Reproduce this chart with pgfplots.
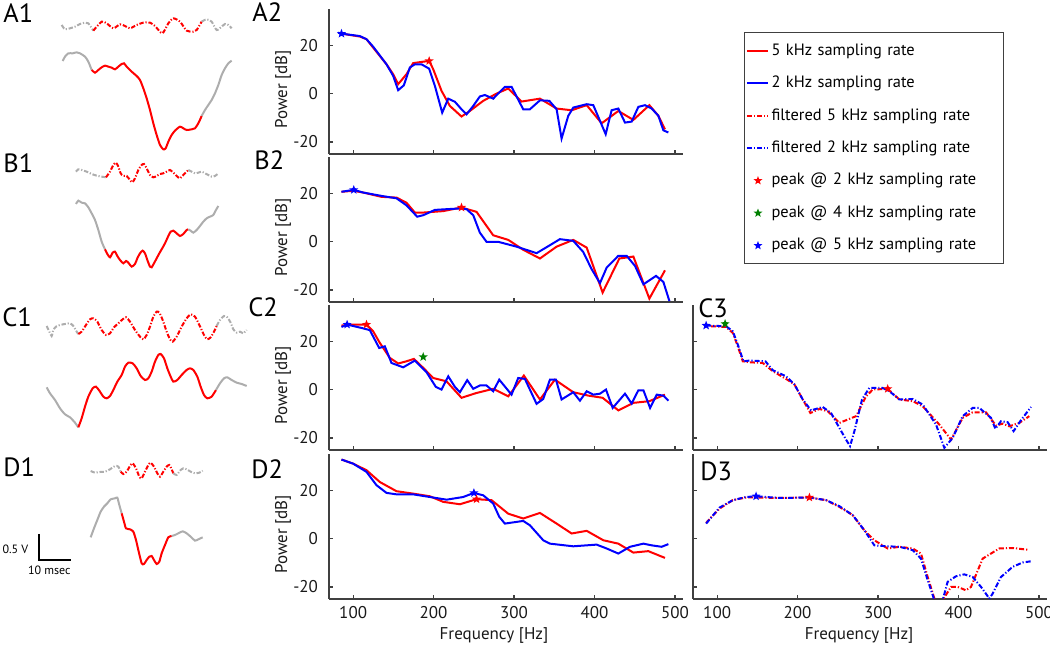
\documentclass[border=0pt]{standalone}
\usepackage{fontspec}
\setmainfont{PT Sans}
\usepackage{pgfplots}
\pgfplotsset{compat=1.18}
\pgfdeclareplotmark{fstar}{%
  \pgfpathmoveto{\pgfpointpolar{90}{\pgfplotmarksize}}%
  \pgfpathlineto{\pgfpointpolar{126}{0.42\pgfplotmarksize}}%
  \pgfpathlineto{\pgfpointpolar{162}{\pgfplotmarksize}}%
  \pgfpathlineto{\pgfpointpolar{198}{0.42\pgfplotmarksize}}%
  \pgfpathlineto{\pgfpointpolar{234}{\pgfplotmarksize}}%
  \pgfpathlineto{\pgfpointpolar{270}{0.42\pgfplotmarksize}}%
  \pgfpathlineto{\pgfpointpolar{306}{\pgfplotmarksize}}%
  \pgfpathlineto{\pgfpointpolar{342}{0.42\pgfplotmarksize}}%
  \pgfpathlineto{\pgfpointpolar{18}{\pgfplotmarksize}}%
  \pgfpathlineto{\pgfpointpolar{54}{0.42\pgfplotmarksize}}%
  \pgfpathclose\pgfusepathqfill}
\newcommand{\legstar}[1]{\path (0pt,0pt) (10.5pt,0pt);
  \fill[#1, draw=none] (5.5pt,0pt) +(90:2.3pt) -- +(126:0.97pt) -- +(162:2.3pt) -- +(198:0.97pt) -- +(234:2.3pt) -- +(270:0.97pt) -- +(306:2.3pt) -- +(342:0.97pt) -- +(18:2.3pt) -- +(54:0.97pt) -- cycle;}
\definecolor{mred}{rgb}{1,0,0}
\definecolor{mblue}{rgb}{0,0,1}
\definecolor{mgreen}{rgb}{0,0.5,0}
\definecolor{wgray}{rgb}{0.68,0.68,0.68}
\definecolor{axgray}{rgb}{0.25,0.25,0.25}
\pgfplotsset{
  wave/.style={hide axis, scale only axis, width=125pt, height=80pt,
    xmin=0, xmax=750, ymin=0, ymax=480, y dir=reverse, clip=false, anchor=south west},
  gsol/.style={wgray, line width=1pt, smooth, tension=0.4, no marks},
  rsol/.style={mred, line width=1pt, smooth, tension=0.4, no marks},
  gdash/.style={wgray, line width=1pt, smooth, tension=0.4, no marks, dash pattern=on 2.2pt off 0.9pt on 0.6pt off 0.9pt},
  rdash/.style={mred, line width=1pt, smooth, tension=0.4, no marks, dash pattern=on 2.2pt off 0.9pt on 0.6pt off 0.9pt},
  spec/.style={scale only axis, width=177pt, height=72.5pt, anchor=south west,
    xmin=70, xmax=510, ymin=-25, ymax=35,
    axis lines=left, axis line style={-, draw=axgray, line width=0.6pt},
    xtick={100,200,300,400,500}, ytick={-20,0,20},
    tick align=inside, major tick length=2pt, tick style={axgray, line width=0.6pt},
    /pgf/number format/assume math mode=true,
    tick label style={font=\fontsize{8.5}{10}\selectfont, text=black!90},
    xticklabel style={yshift=0pt},
    yticklabel style={xshift=-2pt},
    ylabel={Power [dB]},
    ylabel style={at={(axis description cs:-0.13,0.445)}, anchor=center, font=\fontsize{8.5}{10}\selectfont, text=black!90},
    xlabel style={at={(axis description cs:0.466,-0.252)}, anchor=center, font=\fontsize{8.5}{10}\selectfont, text=black!90},
  },
  rl/.style={mred, line width=1pt, no marks},
  bl/.style={mblue, line width=1pt, no marks},
  rd/.style={mred, line width=1pt, no marks, dash pattern=on 2.5pt off 1pt on 0.6pt off 1pt},
  bd/.style={mblue, line width=1pt, no marks, dash pattern=on 2.5pt off 1pt on 0.6pt off 1pt},
  st/.style={only marks, mark=fstar, mark size=2.4pt, #1},
}
\begin{document}
\begin{tikzpicture}
\path[use as bounding box] (0pt,0pt) rectangle (525pt,323pt);

% ---------------- left column: waveforms ----------------
\begin{axis}[wave, at={(0pt,243pt)}]
\addplot[gdash] coordinates {(185,75)(195,88)(210,85)(225,80)(240,72)(255,68)(265,70)(280,92)};
\addplot[rdash] coordinates {(280,92)(305,65)(320,70)(340,85)(360,73)(375,78)(390,85)(410,75)(430,68)(450,68)(465,78)(487,100)(505,70)(520,55)(540,65)(560,92)(580,95)(590,90)(605,65)};
\addplot[gdash] coordinates {(605,65)(620,58)(635,65)(650,90)(665,80)(675,72)(685,75)(695,85)};
\addplot[gsol] coordinates {(188,183)(195,170)(205,160)(218,160)(230,157)(240,160)(255,170)(265,185)(275,210)};
\addplot[rsol] coordinates {(275,210)(285,218)(295,210)(305,202)(315,197)(325,200)(335,203)(345,208)(355,200)(365,192)(372,190)(380,200)(395,215)(410,228)(420,240)(430,265)(440,295)(450,330)(460,370)(470,405)(480,435)(490,448)(497,445)(505,425)(515,405)(525,392)(540,380)(550,385)(560,390)(575,388)(585,385)(595,370)(605,348)};
\addplot[gsol] coordinates {(605,348)(615,330)(625,315)(635,300)(645,280)(655,255)(665,225)(675,205)(685,190)(695,182)};
\end{axis}

\begin{axis}[wave, at={(0pt,168pt)}]
\addplot[gdash] coordinates {(228,65)(235,58)(245,60)(260,65)(275,72)(290,77)(305,80)(318,82)};
\addplot[rdash] coordinates {(318,82)(330,65)(340,45)(348,38)(355,50)(362,70)(370,78)(380,78)(390,90)(397,97)(405,85)(415,60)(425,45)(432,42)(440,55)(450,75)(460,82)(470,78)(480,72)(490,70)(500,65)(510,60)(520,68)(530,78)(540,85)(550,75)(560,65)(565,60)};
\addplot[gdash] coordinates {(565,60)(575,65)(585,70)(595,68)(605,65)(615,70)(625,75)(635,80)(645,78)(655,70)};
\addplot[gsol] coordinates {(228,162)(235,152)(245,158)(255,160)(265,172)(275,190)(285,210)(295,240)(305,275)(315,298)};
\addplot[rsol] coordinates {(315,298)(322,312)(330,322)(338,308)(345,305)(352,318)(360,330)(370,340)(378,333)(385,338)(395,350)(405,342)(412,325)(420,310)(428,302)(435,310)(442,330)(450,350)(455,352)(462,340)(470,325)(478,310)(485,298)(495,280)(505,258)(512,245)(520,242)(530,250)(540,258)(550,252)(560,240)(565,238)};
\addplot[gsol] coordinates {(565,238)(572,242)(580,248)(590,240)(600,228)(610,215)(620,205)(630,200)(640,195)(648,180)(655,168)};
\end{axis}

\begin{axis}[wave, at={(0pt,93pt)}]
\addplot[gdash] coordinates {(140,78)(148,95)(155,108)(160,90)(168,80)(180,75)(195,72)(210,70)(220,78)(230,95)(235,102)};
\addplot[rdash] coordinates {(235,102)(245,95)(258,75)(270,58)(280,55)(292,65)(305,90)(318,105)(330,100)(342,82)(355,70)(368,58)(378,52)(390,65)(405,90)(420,110)(430,118)(440,105)(450,80)(460,50)(470,35)(478,38)(488,60)(500,95)(510,118)(518,125)(530,110)(545,80)(560,55)(572,43)(585,50)(598,75)(612,105)(622,118)(632,112)(642,95)(650,78)};
\addplot[gdash] coordinates {(650,78)(660,60)(672,48)(682,52)(692,68)(700,88)(710,98)(720,95)(730,100)(740,90)};
\addplot[gsol] coordinates {(140,262)(150,280)(165,300)(180,325)(195,343)(210,352)(225,368)(235,382)};
\addplot[rsol] coordinates {(235,382)(245,355)(255,320)(265,290)(278,265)(288,260)(298,272)(310,290)(320,295)(330,288)(340,270)(352,245)(365,225)(375,200)(385,188)(398,190)(410,205)(422,228)(435,240)(445,235)(455,215)(465,185)(475,165)(482,162)(492,175)(502,205)(512,230)(520,245)(532,240)(545,225)(560,210)(570,205)(580,210)(592,230)(602,260)(612,285)(622,295)(635,290)(648,270)};
\addplot[gsol] coordinates {(648,270)(660,250)(672,235)(682,232)(695,240)(710,248)(725,252)(740,258)};
\end{axis}

\begin{axis}[wave, at={(0pt,18pt)}]
\addplot[gdash] coordinates {(272,63)(285,68)(300,66)(315,65)(330,58)(345,48)(355,50)(362,65)};
\addplot[rdash] coordinates {(362,65)(370,72)(380,65)(390,48)(398,40)(408,55)(418,80)(425,85)(435,65)(445,45)(452,38)(462,50)(472,70)(480,80)(490,65)(500,50)(508,45)(515,58)(520,70)};
\addplot[gdash] coordinates {(520,70)(530,75)(540,62)(550,55)(560,58)(572,65)(585,70)(598,68)(608,62)};
\addplot[gsol] coordinates {(272,262)(282,235)(292,210)(302,185)(312,170)(322,160)(332,148)(345,145)(352,143)(358,165)(365,190)};
\addplot[rsol] coordinates {(365,190)(372,215)(378,235)(390,238)(400,245)(408,270)(415,300)(425,340)(432,342)(440,330)(448,320)(455,318)(462,330)(470,342)(478,335)(485,310)(495,285)(505,262)(515,258)};
\addplot[gsol] coordinates {(515,258)(525,255)(535,250)(548,244)(560,250)(572,260)(585,272)(595,268)(608,262)};
\addplot[black, line width=0.9pt, no marks] coordinates {(118,252)(118,330)(212,330)};
\node[anchor=east, inner sep=0pt, font=\fontsize{6}{7}\selectfont] at (axis cs:86,297) {0.5 V};
\node[anchor=center, inner sep=0pt, font=\fontsize{6}{7}\selectfont] at (axis cs:148,360) {10 msec};
\end{axis}

% ---------------- A2 ----------------
\begin{axis}[spec, at={(164.5pt,246pt)}, xticklabels={},
  legend style={at={(axis description cs:1.172,0.841)}, anchor=north west,
    draw=axgray, line width=0.5pt, fill=white,
    font=\fontsize{8.2}{9.6}\selectfont, row sep=4.9pt, inner xsep=0.8pt, inner ysep=3.5pt,
    cells={anchor=west}, nodes={inner xsep=1.3pt, text width=114pt, align=left}}]
\addplot[rl, forget plot] coordinates {(85.5,24.8)(108.3,23.6)(116.6,22.5)(124.9,19.0)(141.5,12.1)(149.8,8.0)(156,3.9)(166.3,8.0)(174.6,12.6)(185,13.1)(194.5,13.5)(199.5,10.1)(209.9,1.1)(220.2,-5.1)(234.7,-9.5)(245.1,-7.2)(261.7,-3.0)(278.3,0)(292.8,2.1)(309.4,-3.3)(332.2,-2.1)(352.9,-6.2)(371.6,-6.9)(390.3,-4.8)(408.9,-12.3)(429.6,-7.2)(448.3,-10.9)(468.2,-4.8)(479.4,-9.2)(487.6,-14.8)};
\addplot[bl, forget plot] coordinates {(81.3,25.2)(85.5,24.8)(108.3,23.8)(116.6,22.5)(124.9,19.4)(141.5,12.1)(149.8,7.3)(156,1.4)(163,3.4)(170.5,10.8)(176.7,12.1)(185,12.1)(194.5,10.3)(201.6,3.2)(210.7,-7.9)(218.2,-2.1)(226.5,-3.4)(234.7,-6.5)(241,-8.6)(249.3,-5.1)(257.5,-1.2)(263.8,-0.6)(274.1,-2.1)(288.6,2.8)(296.9,2.8)(311.4,-6.5)(319.7,-6.5)(332.2,-2.8)(343.8,-3.0)(352.9,-6.5)(359.1,-18.6)(367.4,-9.2)(373.6,-5.8)(390.3,-4.4)(398.5,-4.8)(413.9,-16.8)(421.3,-6.9)(429.6,-6.2)(437.9,-12.0)(446.2,-11.6)(454.5,-5.5)(462.8,-4.8)(471.1,-6.2)(479.4,-9.2)(485.6,-15.2)(491.8,-16.1)};
\addplot[st=mred, forget plot] coordinates {(194.5,13.5)};
\addplot[st=mblue, forget plot] coordinates {(85.5,24.8)};
\addlegendimage{legend image code/.code={\draw[mred, line width=1pt] (0pt,0pt) -- (10.5pt,0pt);}}
\addlegendentry{5 kHz sampling rate}
\addlegendimage{legend image code/.code={\draw[mblue, line width=1pt] (0pt,0pt) -- (10.5pt,0pt);}}
\addlegendentry{2 kHz sampling rate}
\addlegendimage{legend image code/.code={\draw[mred, line width=1pt, dash pattern=on 2.5pt off 1pt on 0.6pt off 1pt] (0pt,0pt) -- (10.5pt,0pt);}}
\addlegendentry{filtered 5 kHz sampling rate}
\addlegendimage{legend image code/.code={\draw[mblue, line width=1pt, dash pattern=on 2.5pt off 1pt on 0.6pt off 1pt] (0pt,0pt) -- (10.5pt,0pt);}}
\addlegendentry{filtered 2 kHz sampling rate}
\addlegendimage{legend image code/.code={\legstar{mred}}}
\addlegendentry{peak @ 2 kHz sampling rate}
\addlegendimage{legend image code/.code={\legstar{mgreen}}}
\addlegendentry{peak @ 4 kHz sampling rate}
\addlegendimage{legend image code/.code={\legstar{mblue}}}
\addlegendentry{peak @ 5 kHz sampling rate}
\end{axis}

% ---------------- B2 ----------------
\begin{axis}[spec, at={(164.5pt,172pt)}, xticklabels={}]
\addplot[rl] coordinates {(85.5,20.6)(100,21.0)(112.4,20.3)(135.2,18.5)(153.9,18.2)(166.3,16.1)(176.7,12.0)(187.1,12.0)(211.9,12.6)(234.7,14.1)(253.4,12.3)(274.1,2.6)(292.8,0.7)(311.4,-3.4)(332.2,-7.0)(352.9,-2.1)(373.6,0.7)(390.3,-2.5)(410.1,-21.1)(430.9,-7.0)(448.3,-6.2)(468.2,-23.6)(487.6,-11.9)};
\addplot[bl] coordinates {(85.5,20.6)(100.8,21.4)(112.4,20.3)(135.2,18.9)(153.9,17.9)(166.3,15.0)(179.6,10.3)(187.1,10.9)(201.6,13.1)(216.1,13.4)(232.7,13.7)(241,13.4)(249.3,10.9)(257.5,3.7)(265.8,-0.1)(280.3,-0.1)(303.1,-2.1)(328,-4.8)(344.6,-1.5)(357,1.0)(373.6,0.3)(386,-4.3)(396.4,-11.4)(406.8,-17.2)(415.1,-10.8)(429.6,-5.9)(440,-5.9)(450.4,-10.1)(460.8,-17.7)(476.5,-14.2)(485.6,-16.7)(493.1,-24.6)};
\addplot[st=mred] coordinates {(234.7,14.1)};
\addplot[st=mblue] coordinates {(100.8,21.4)};
\end{axis}

% ---------------- C2 ----------------
\begin{axis}[spec, at={(164.5pt,98pt)}, xticklabels={}]
\addplot[rl] coordinates {(85.5,26.5)(100,26.9)(116.6,26.9)(124.9,24.1)(133.2,19.3)(145.6,13.1)(156,10.8)(166.3,11.7)(175.5,12.7)(187.1,9.0)(199.5,4.8)(216.1,3.4)(234.7,-3.4)(253.4,-1.4)(274.1,0.3)(292.8,-2.8)(312.2,5.8)(332.2,-4.1)(350.8,4.1)(373.6,-1.1)(392.3,-2.5)(410.1,-3.4)(429.6,-8.6)(448.3,-5.5)(468.2,-4.8)(487.6,-2.1)};
\addplot[bl] coordinates {(85.5,25.9)(92.5,26.9)(110.4,25.5)(120.7,24.6)(132.4,17.2)(139.4,17.9)(147.7,11.0)(162.2,9.2)(176.7,12.0)(191.2,7.2)(202.8,1.1)(209.9,0)(218.2,5.5)(226.5,1.1)(232.7,-1.1)(241.8,3.9)(249.3,0.3)(257.5,1.7)(265.8,1.7)(274.1,-0.7)(281.6,4.1)(296.9,-2.1)(305.2,4.8)(313.5,4.4)(328,-5.9)(336.3,-3.9)(344.6,4.1)(352.1,4.1)(359.1,-4.1)(373.6,-1.1)(381.9,-4.6)(390.3,-0.7)(398.5,-2.1)(406.8,-1.7)(414.3,0)(422.6,-7.6)(437.9,-1.7)(446.2,-5.8)(454.5,-0.3)(460.8,-0.3)(469.1,-7.6)(477.4,-2.1)(485.6,-2.5)(491.8,-4.6)};
\addplot[st=mblue] coordinates {(92.5,26.9)};
\addplot[st=mred] coordinates {(116.6,26.9)};
\addplot[st=mgreen] coordinates {(187.1,13.5)};
\end{axis}

% ---------------- D2 ----------------
\begin{axis}[spec, at={(164.5pt,23.5pt)}, xlabel={Frequency [Hz]}]
\addplot[rl] coordinates {(85.5,32.7)(100,31.0)(116.6,28.3)(133.2,23.4)(153.9,19.6)(174.6,18.6)(195.4,17.5)(211.9,15.2)(232.7,14.2)(253.4,16.3)(272,15.9)(292.8,10.3)(311.4,8.3)(332.2,10.6)(352.9,6.2)(371.6,2.1)(390.3,3.2)(411,-0.7)(429.6,-2.1)(448.3,-5.8)(466.9,-5.2)(487.6,-8.0)};
\addplot[bl] coordinates {(85.5,32.7)(100,31.0)(116.6,27.6)(129,22.1)(141.5,18.9)(153.9,18.3)(174.6,18.3)(195.4,17.2)(216.1,16.1)(236.8,17.2)(250.1,18.9)(261.7,17.9)(274.1,14.5)(281.6,9.0)(288.6,6.2)(311.4,7.3)(319.7,5.5)(336.3,-0.7)(344.6,-2.1)(373.6,-3.2)(402.6,-2.5)(415.1,-4.1)(429.6,-6.2)(444.1,-3.4)(460.8,-2.1)(471.1,-2.8)(483.5,-3.4)(491.8,-2.3)};
\addplot[st=mblue] coordinates {(250.1,18.9)};
\addplot[st=mred] coordinates {(253.4,16.3)};
\end{axis}

% ---------------- C3 ----------------
\begin{axis}[spec, at={(346.5pt,98pt)}, xticklabels={}, yticklabels={}, ylabel={}]
\addplot[rd] coordinates {(92.5,26.2)(111.2,25.9)(119.5,23.4)(125.7,17.9)(131.9,11.7)(140.2,11.3)(156.7,11.0)(169.2,7.6)(185.7,4.4)(196.1,2.1)(206.4,-4.1)(215.9,-9.7)(227.1,-8.0)(237.5,-9.0)(252,-13.8)(272.7,-11.0)(285.1,-2.8)(293.4,0)(312,0.3)(326.5,-4.1)(343.1,-4.8)(355.5,-6.9)(376.2,-14.5)(390.7,-20.7)(405.2,-11.7)(417.6,-9.4)(434.2,-9.4)(446.6,-14.9)(454.9,-14.1)(463.1,-15.2)(475.6,-13.8)(488,-11.0)};
\addplot[bd] coordinates {(86.3,26.5)(111.2,26.2)(119.5,24.1)(125.7,18.6)(132.7,11.7)(140.2,12.0)(160,11.7)(169.2,8.0)(185.7,5.5)(196.1,2.1)(206.4,-4.1)(216.7,-8.6)(231.2,-7.2)(241.6,-9.7)(252,-15.9)(260.2,-20.7)(265.2,-23.4)(270.6,-17.2)(280.1,-4.1)(289.2,0.7)(305.8,0.7)(314.1,-0.7)(326.5,-4.1)(343.1,-3.9)(355.5,-6.2)(372.1,-14.5)(382.4,-24.1)(392.8,-20.0)(405.2,-11.0)(417.6,-7.6)(425.9,-7.6)(440.4,-11.7)(445.8,-16.2)(452.8,-13.1)(461.1,-13.5)(468.5,-17.2)(477.6,-12.7)(490.1,-7.2)};
\addplot[st=mblue] coordinates {(86.3,26.5)};
\addplot[st=mgreen] coordinates {(109.9,27.2)};
\addplot[st=mred] coordinates {(312,0.3)};
\end{axis}

% ---------------- D3 ----------------
\begin{axis}[spec, at={(346.5pt,23.5pt)}, yticklabels={}, ylabel={}, xlabel={Frequency [Hz]}, xlabel style={at={(axis description cs:0.469,-0.252)}}]
\addplot[rd] coordinates {(86.3,6.5)(102.9,12.4)(119.5,15.9)(136,17.0)(148.4,17.0)(177.4,16.8)(214.7,17.0)(235.4,15.9)(252,13.1)(268.5,9.7)(283,3.4)(295.4,-0.7)(312,-4.1)(326.5,-3.4)(343.1,-4.1)(353.4,-6.2)(361.7,-15.9)(370,-24.8)(375,-29)(380.3,-25.5)(390.7,-20)(399,-20)(409.3,-21.4)(415.5,-20)(430,-8.3)(450.7,-4.1)(467.3,-3.9)(485.9,-4.6)};
\addplot[bd] coordinates {(86.3,6.2)(102.9,12.8)(119.5,15.9)(136,17.2)(148.4,17.5)(177.4,16.8)(214.7,17.0)(235.4,15.9)(252,13.4)(268.5,9.7)(283,3.4)(295.4,-2.8)(312,-3.2)(326.5,-3.4)(343.1,-4.8)(353.4,-8.3)(361.7,-17.2)(370,-25.5)(375,-29)(380.3,-25.5)(386.5,-17.9)(396.9,-15.6)(407.2,-14.8)(417.6,-15.9)(428,-20)(438.3,-24.8)(442.4,-22.8)(452.8,-15.9)(467.3,-11.7)(479.7,-9.9)(490.1,-9.4)};
\addplot[st=mblue] coordinates {(148.4,17.5)};
\addplot[st=mred] coordinates {(214.7,17.0)};
\end{axis}

% ---------------- panel labels ----------------
\begin{scope}[every node/.style={anchor=north west, inner sep=0pt, font=\fontsize{13.2}{15}\selectfont}]
\node at (1.5pt,321.5pt) {A1};
\node at (1.5pt,246.5pt) {B1};
\node at (1pt,169.5pt) {C1};
\node at (1.5pt,94.5pt) {D1};
\node at (126pt,322pt) {A2};
\node at (127pt,248pt) {B2};
\node at (124pt,174.5pt) {C2};
\node at (125.5pt,93.5pt) {D2};
\node at (349pt,174pt) {C3};
\node at (350pt,92.5pt) {D3};
\end{scope}
\end{tikzpicture}
\end{document}
